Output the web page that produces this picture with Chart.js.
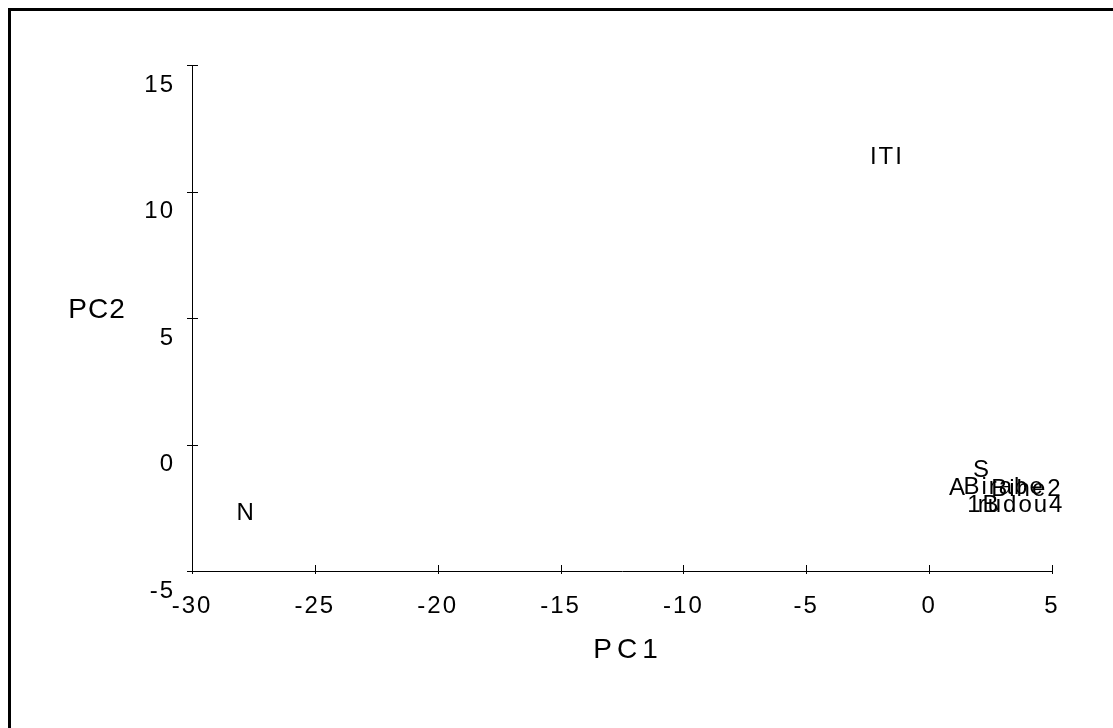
<!DOCTYPE html>
<html>
<head>
<meta charset="utf-8">
<title>PC1 / PC2</title>
<script src="https://cdn.jsdelivr.net/npm/chart.js@4.4.1/dist/chart.umd.min.js"></script>
<style>
  html, body { margin: 0; padding: 0; background: #fff; overflow: hidden; }
  #wrap { position: relative; width: 1113px; height: 728px; }
  #frame {
    position: absolute; left: 8px; top: 8px; width: 1200px; height: 800px;
    border-left: 3px solid #000; border-top: 3px solid #000; pointer-events: none;
  }
  canvas { position: absolute; left: 0; top: 0; }
</style>
</head>
<body>
<div id="wrap">
  <canvas id="chart" width="1113" height="728"></canvas>
  <div id="frame"></div>
</div>
<script>
// sample names and their scores on the first two components
const names = ['ITI', 'N', 'S', 'A', 'Birabe', 'Bihe2', '1B', 'rudou4'];
const pc1 = [-1.76, -27.84, 2.11, 1.13, 3.01, 3.94, 2.19, 3.70];
const pc2 = [11.34, -2.73, -1.03, -1.74, -1.70, -1.78, -2.41, -2.41];

const FONT = '"Liberation Sans", Arial, sans-serif';

const points = names.map((name, i) => ({ x: pc1[i], y: pc2[i] }));

// old bitmap fonts are spaced a little wide, keep that on every text drawn
const spacing = {
  id: 'spacing',
  beforeLayout(chart) { chart.ctx.letterSpacing = '2px'; },
  beforeDraw(chart) { chart.ctx.letterSpacing = '2px'; },
};

// the names are the markers
const nameLabels = {
  id: 'nameLabels',
  afterDatasetsDraw(chart) {
    const { ctx } = chart;
    const meta = chart.getDatasetMeta(0);
    ctx.save();
    ctx.letterSpacing = '2px';
    ctx.font = `24px ${FONT}`;
    ctx.fillStyle = '#000';
    ctx.textAlign = 'center';
    ctx.textBaseline = 'middle';
    meta.data.forEach((pt, i) => {
      ctx.fillText(names[i], pt.x + 1, pt.y);
    });
    ctx.restore();
  },
};

// ticks cross the axis lines, titles sit horizontal
const axisExtras = {
  id: 'axisExtras',
  afterDraw(chart) {
    const { ctx, chartArea } = chart;
    const { x, y } = chart.scales;
    ctx.save();
    ctx.strokeStyle = '#000';
    ctx.lineWidth = 1;
    ctx.beginPath();
    x.ticks.forEach((t) => {
      const px = Math.round(x.getPixelForValue(t.value)) + 0.5;
      ctx.moveTo(px, chartArea.bottom - 6);
      ctx.lineTo(px, chartArea.bottom + 3);
    });
    y.ticks.forEach((t) => {
      const py = Math.round(y.getPixelForValue(t.value)) + 0.5;
      ctx.moveTo(chartArea.left - 5, py);
      ctx.lineTo(chartArea.left + 6, py);
    });
    ctx.stroke();

    ctx.fillStyle = '#000';
    ctx.textAlign = 'center';
    ctx.textBaseline = 'middle';
    ctx.font = `28px ${FONT}`;
    ctx.letterSpacing = '5px';
    ctx.fillText('PC1', (chartArea.left + chartArea.right) / 2 + 6, chartArea.bottom + 79);
    ctx.letterSpacing = '1px';
    ctx.fillText('PC2', chartArea.left - 95, (chartArea.top + chartArea.bottom) / 2 - 8);
    ctx.restore();
  },
};

new Chart(document.getElementById('chart'), {
  type: 'scatter',
  data: {
    datasets: [{
      data: points,
      pointRadius: 0,
      pointHoverRadius: 0,
      showLine: false,
    }],
  },
  plugins: [spacing, nameLabels, axisExtras],
  options: {
    responsive: false,
    devicePixelRatio: 1,
    animation: false,
    layout: {
      padding: { left: 0, top: 65, right: 61, bottom: 0 },
    },
    plugins: {
      legend: { display: false },
      tooltip: { enabled: false },
    },
    scales: {
      x: {
        type: 'linear',
        min: -30,
        max: 5,
        grid: { display: false, drawTicks: false },
        border: { display: true, color: '#000', width: 1 },
        ticks: {
          stepSize: 5,
          color: '#000',
          padding: 21,
          font: { family: FONT, size: 24 },
          maxRotation: 0,
        },
        afterFit(scale) { scale.height = 157; },
      },
      y: {
        type: 'linear',
        min: -5,
        max: 15,
        grid: { display: false, drawTicks: false },
        border: { display: true, color: '#000', width: 1 },
        ticks: {
          stepSize: 5,
          color: '#000',
          padding: 17,
          labelOffset: 20,
          font: { family: FONT, size: 24 },
        },
        afterFit(scale) { scale.width = 192; },
      },
    },
  },
});
</script>
</body>
</html>
